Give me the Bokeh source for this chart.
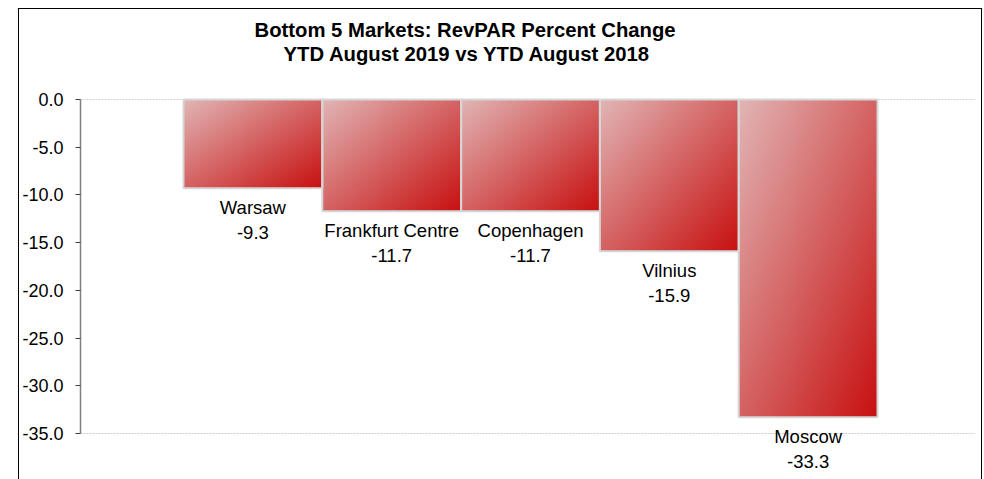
import numpy as np
from bokeh.plotting import figure
from bokeh.models import (Range1d, FixedTicker, NumeralTickFormatter, Title,
                          ColumnDataSource)
from bokeh.core.properties import value
from bokeh.embed import file_html
from bokeh.resources import INLINE

# ---- data ----
markets = ["Warsaw", "Frankfurt Centre", "Copenhagen", "Vilnius", "Moscow"]
revpar_change = [-9.3, -11.7, -11.7, -15.9, -33.3]
y_ticks = [0, -5, -10, -15, -20, -25, -30, -35]
title_lines = ["Bottom 5 Markets: RevPAR Percent Change",
               "YTD August 2019 vs YTD August 2018"]

FONT = "Liberation Sans"
W, H = 962, 470

p = figure(width=W, height=H, output_backend="svg", toolbar_location=None,
           title=None, x_range=Range1d(-1.242, 5.206), y_range=Range1d(-39.82, 0.21),
           x_axis_location=None, min_border_left=61, min_border_right=6,
           min_border_top=88, min_border_bottom=0, tools="",
           margin=(9, 0, 0, 19),
           styles={"outline": "1.5px solid black"})
p.outline_line_color = None
p.background_fill_color = "white"
p.border_fill_color = "white"

# y axis
ax = p.yaxis[0]
ax.ticker = FixedTicker(ticks=y_ticks)
ax.formatter = NumeralTickFormatter(format="0.0")
ax.bounds = (-35, 0)
ax.axis_line_color = "#808080"
ax.axis_line_width = 1.5
ax.major_tick_line_color = "#404040"
ax.major_tick_line_width = 1.2
ax.major_tick_out = 5
ax.major_tick_in = 0
ax.minor_tick_line_color = None
ax.major_label_text_font = FONT
ax.major_label_text_font_size = "18px"
ax.major_label_text_color = "black"
ax.major_label_standoff = 12

p.xgrid.grid_line_color = None
p.ygrid.ticker = FixedTicker(ticks=[y_ticks[0], y_ticks[-1]])
p.ygrid.grid_line_color = "#cfcfcf"
p.ygrid.grid_line_dash = "2 1"
p.ygrid.grid_line_width = 1

# gradient bars drawn as images positioned by data
c0 = np.array([226, 182, 182], dtype=float)
c1 = np.array([200, 16, 16], dtype=float)
px_per_unit = 9.543
imgs, xs, ys, dws, dhs = [], [], [], [], []
for i, v in enumerate(revpar_change):
    nx = 140
    ny = max(2, int(round(abs(v) * px_per_unit)))
    u = np.linspace(0, 1, nx)[None, :]
    vv = np.linspace(1, 0, ny)[:, None]  # 1 at bottom row, 0 at top row
    t = (u + vv) / 2.0
    rgb = c0[None, None, :] * (1 - t[..., None]) + c1[None, None, :] * t[..., None]
    img = np.empty((ny, nx), dtype=np.uint32)
    view = img.view(dtype=np.uint8).reshape((ny, nx, 4))
    view[..., 0] = rgb[..., 0].astype(np.uint8)
    view[..., 1] = rgb[..., 1].astype(np.uint8)
    view[..., 2] = rgb[..., 2].astype(np.uint8)
    view[..., 3] = 255
    imgs.append(img)
    xs.append(i - 0.5)
    ys.append(v)
    dws.append(1.0)
    dhs.append(abs(v))

p.image_rgba(image=imgs, x=xs, y=ys, dw=dws, dh=dhs)

src = ColumnDataSource(dict(
    left=[i - 0.5 for i in range(len(markets))],
    right=[i + 0.5 for i in range(len(markets))],
    top=[0] * len(markets),
    bottom=revpar_change,
    xc=list(range(len(markets))),
    lab=[f"{m}\n{v:.1f}" for m, v in zip(markets, revpar_change)],
))
p.quad(left="left", right="right", top="top", bottom="bottom", source=src,
       fill_alpha=0, line_color="#d6d6d6", line_width=2)

p.text(x="xc", y="bottom", text="lab", source=src, text_align="center",
       text_baseline="top", y_offset=9, text_font=value(FONT),
       text_font_size="18.5px", text_color="black", text_line_height=1.2)

# title: white spacer panel next to the frame, then line 2, then line 1 on top
p.add_layout(Title(text=".", text_font_size="1px", text_color="white",
                   standoff=30), "above")
p.add_layout(Title(text=title_lines[1], align="left", offset=203,
                   text_font=FONT, text_font_size="20.3px", text_font_style="bold",
                   text_color="black", standoff=0), "above")
p.add_layout(Title(text=title_lines[0], align="left", offset=174,
                   text_font=FONT, text_font_size="20.3px", text_font_style="bold",
                   text_color="black", standoff=0), "above")

open("out.html", "w").write(file_html(p, INLINE))
